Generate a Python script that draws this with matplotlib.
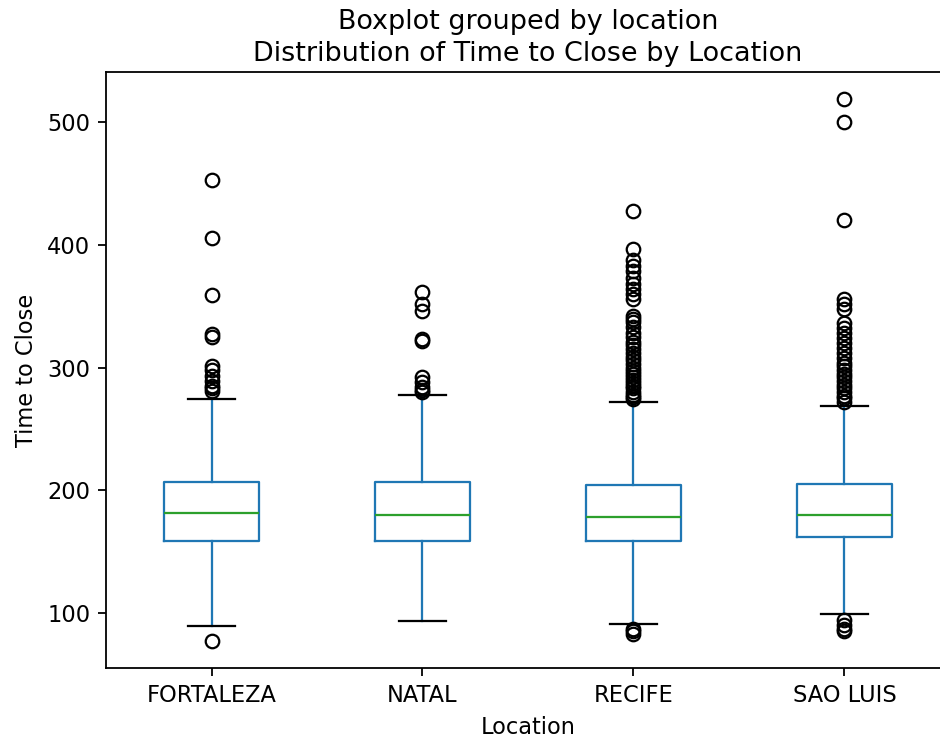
import matplotlib
matplotlib.use("Agg")
import matplotlib.pyplot as plt

locations = ["FORTALEZA", "NATAL", "RECIFE", "SAO LUIS"]
q1 = [158.8, 158.8, 158.2, 162.0]
med = [181.6, 180.0, 178.4, 180.0]
q3 = [206.9, 207.0, 204.2, 205.3]
whislo = [89.4, 93.5, 90.8, 98.9]
whishi = [274.7, 277.5, 271.5, 269.0]
fliers = [
    [77, 281, 283, 285, 289, 293, 298, 301, 325, 327, 359, 406, 453],
    [280, 282, 284, 288, 292, 322, 323, 346, 352, 362],
    [83, 85, 87, 274, 276, 278, 280, 283, 285, 287, 290, 292, 295, 297, 300,
     303, 306, 309, 312, 315, 318, 321, 325, 328, 333, 337, 340, 342, 356,
     360, 364, 368, 373, 379, 383, 388, 397, 428],
    [85, 87, 90, 94, 272, 275, 277, 280, 283, 286, 289, 292, 295, 298, 301,
     304, 308, 312, 316, 320, 324, 328, 332, 336, 348, 352, 356, 420, 500, 519],
]

stats = []
for i, name in enumerate(locations):
    stats.append(dict(label=name, q1=q1[i], med=med[i], q3=q3[i],
                      whislo=whislo[i], whishi=whishi[i], fliers=fliers[i]))

W, H, DPI = 941, 739, 162
fig = plt.figure(figsize=(W / DPI, H / DPI), dpi=DPI)
ax = fig.add_axes([106 / W, 1 - 668 / H, 844 / W, (668 - 72) / H])

ax.bxp(stats, positions=[1, 2, 3, 4], widths=0.45,
       boxprops=dict(color="#1f77b4"),
       whiskerprops=dict(color="#1f77b4"),
       capprops=dict(color="black"),
       medianprops=dict(color="#2ca02c"),
       flierprops=dict(marker="o", markerfacecolor="none", markeredgecolor="black"))

ax.set_xlim(0.5, 4.5)
ax.set_xlabel("Location")
ax.set_ylabel("Time to Close")
ax.set_title("Distribution of Time to Close by Location", fontsize=12, pad=5)
fig.suptitle("Boxplot grouped by location", fontsize=12,
             x=(106 + 422) / W, y=1 - 22 / H, va="center")

fig.savefig("out.png", dpi=DPI)
